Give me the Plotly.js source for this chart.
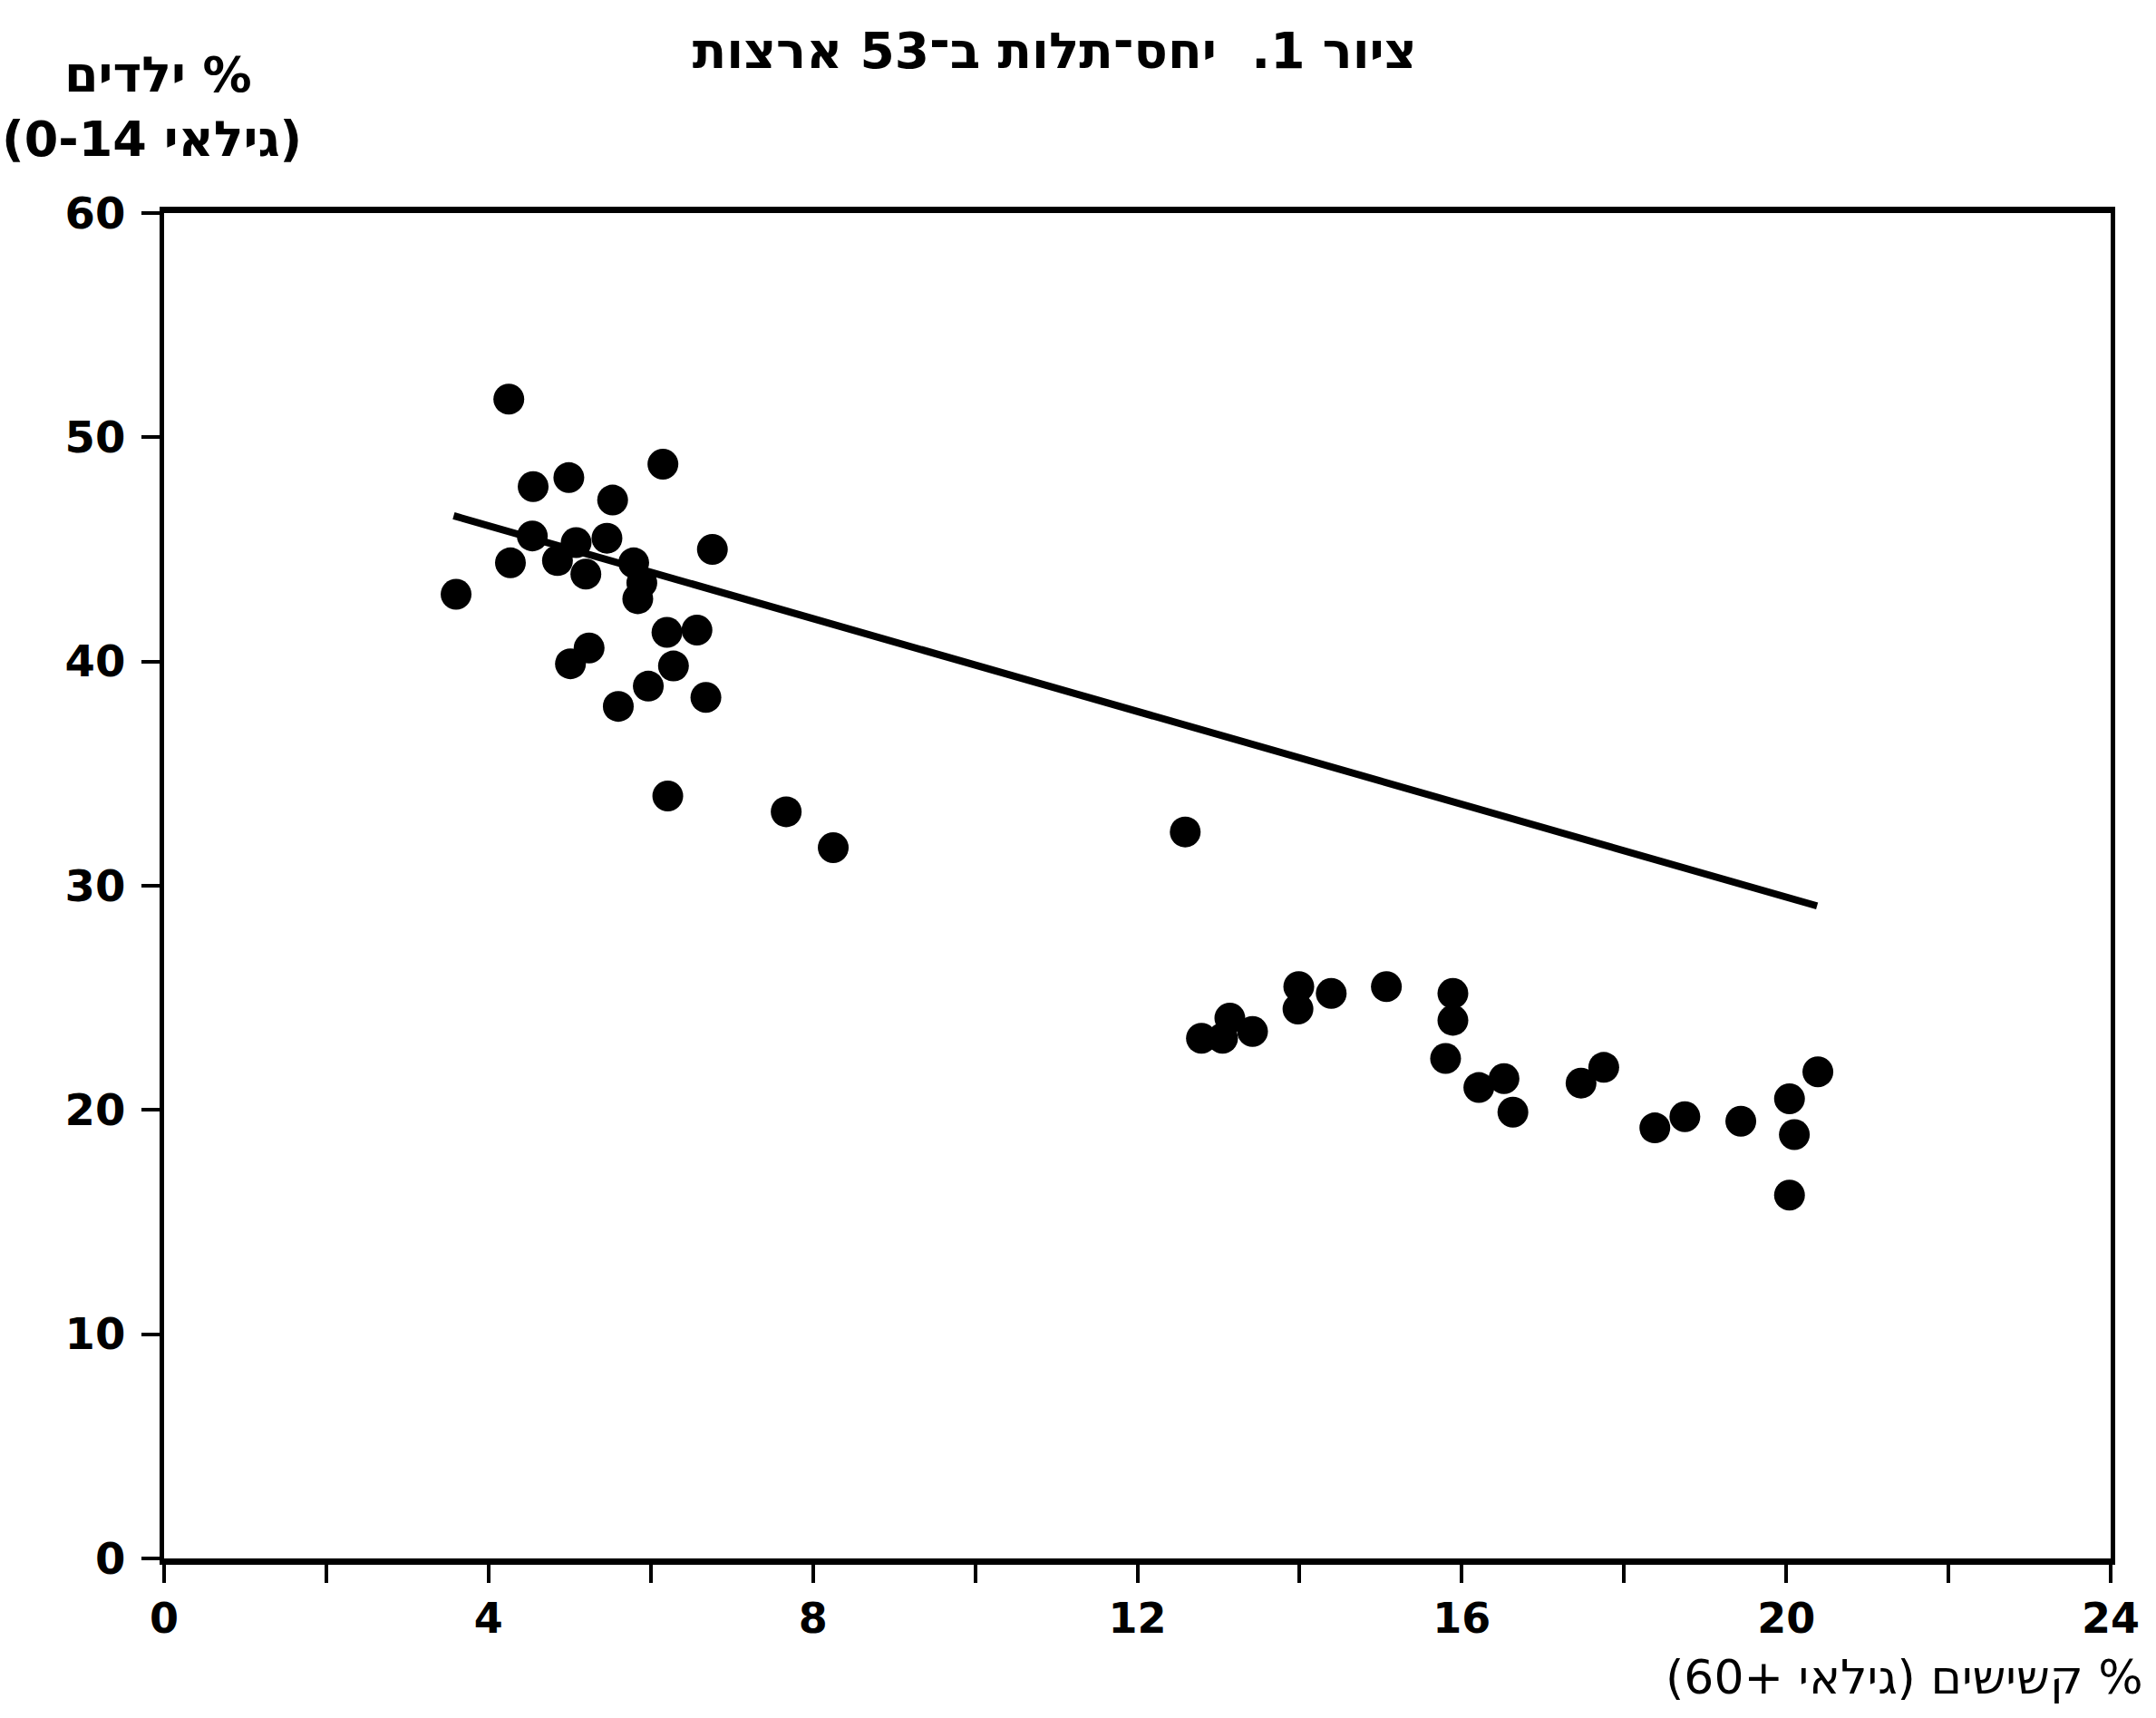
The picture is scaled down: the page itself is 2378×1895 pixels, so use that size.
<!DOCTYPE html>
<html>
<head>
<meta charset="utf-8">
<script src="https://cdn.plot.ly/plotly-3.0.1.min.js"></script>
<style>
  html, body { margin: 0; padding: 0; background: #ffffff; }
  #chart { width: 2378px; height: 1895px; }
</style>
</head>
<body>
<div id="chart"></div>
<script>
// ---- data (x = % aged 60+, y = % aged 0-14) ----
const elderlyPct = [
  3.60, 4.25, 4.27, 4.54, 4.55, 4.85, 4.99, 5.01, 5.08, 5.20,
  5.24, 5.46, 5.53, 5.60, 5.79, 5.84, 5.89, 5.97, 6.15, 6.20,
  6.21, 6.28, 6.57, 6.68, 6.76, 7.67, 8.25,
  12.59, 12.79, 13.05, 13.14, 13.42, 13.98, 13.99, 14.39, 15.07,
  15.80, 15.89, 15.89, 16.21, 16.52, 16.63, 17.47, 17.75,
  18.38, 18.75, 19.44, 20.04, 20.04, 20.10, 20.39
];
const childrenPct = [
  43.0, 51.7, 44.4, 45.6, 47.8, 44.5, 48.2, 39.9, 45.3, 43.9,
  40.6, 45.5, 47.2, 38.0, 44.4, 42.8, 43.5, 38.9, 48.8, 41.3,
  34.0, 39.8, 41.4, 38.4, 45.0, 33.3, 31.7,
  32.4, 23.2, 23.2, 24.1, 23.5, 24.5, 25.5, 25.2, 25.5,
  22.3, 25.2, 24.0, 21.0, 21.4, 19.9, 21.2, 21.9,
  19.2, 19.7, 19.5, 20.5, 16.2, 18.9, 21.7
];
// fitted line as drawn in the figure (end points)
const trendX = [3.57, 20.38];
const trendY = [46.5, 29.1];

const xTickVals = [0, 2, 4, 6, 8, 10, 12, 14, 16, 18, 20, 22, 24];
const xTickText = ['0', '', '4', '', '8', '', '12', '', '16', '', '20', '', '24'];
const yTickVals = [0, 10, 20, 30, 40, 50, 60];
const yTickText = ['0', '10', '20', '30', '40', '50', '60'];

const chartTitle = 'ציור 1.  יחס־תלות ב־53 ארצות';
const yTitleLine1 = '% ילדים';
const yTitleLine2 = '(גילאי 0-14)';
const xTitleText = '% קשישים (גילאי +60)';

// right-to-left marks so Hebrew strings lay out as in the original
const RLM = '\u200F';
function rtl(s) { return RLM + s + RLM; }

const FONT = 'DejaVu Sans, Liberation Sans, sans-serif';

const traces = [
  {
    type: 'scatter',
    mode: 'markers',
    x: elderlyPct,
    y: childrenPct,
    marker: { color: '#000000', size: 34, line: { width: 0 } },
    hoverinfo: 'x+y',
    showlegend: false
  },
  {
    type: 'scatter',
    mode: 'lines',
    x: trendX,
    y: trendY,
    line: { color: '#000000', width: 8 },
    hoverinfo: 'skip',
    showlegend: false
  }
];

const layout = {
  width: 2378,
  height: 1895,
  margin: { l: 181, r: 50, t: 235, b: 176, pad: 0 },
  paper_bgcolor: '#ffffff',
  plot_bgcolor: '#ffffff',
  showlegend: false,
  title: {
    text: rtl(chartTitle),
    font: { family: FONT, size: 55, weight: 'bold', color: '#000000' },
    xref: 'paper', x: 0.4575, xanchor: 'center',
    yref: 'container', y: 0.9705, yanchor: 'middle'
  },
  xaxis: {
    range: [0, 24],
    tickmode: 'array',
    tickvals: xTickVals,
    ticktext: xTickText,
    ticks: 'outside',
    ticklen: 20,
    tickwidth: 4,
    tickcolor: '#000000',
    ticklabelstandoff: 0,
    tickfont: { family: FONT, size: 46, weight: 'bold', color: '#000000' },
    showline: true,
    linewidth: 7,
    linecolor: '#000000',
    mirror: true,
    showgrid: false,
    zeroline: false,
    fixedrange: true
  },
  yaxis: {
    range: [0, 60],
    tickmode: 'array',
    tickvals: yTickVals,
    ticktext: yTickText,
    ticks: 'outside',
    ticklen: 20,
    tickwidth: 4,
    tickcolor: '#000000',
    ticklabelstandoff: 8,
    tickfont: { family: FONT, size: 48, weight: 'bold', color: '#000000' },
    showline: true,
    linewidth: 5,
    linecolor: '#000000',
    mirror: true,
    showgrid: false,
    zeroline: false,
    fixedrange: true
  },
  annotations: [
    {
      text: rtl(yTitleLine1),
      xref: 'paper', yref: 'paper',
      x: -0.0028, y: 1.103, xanchor: 'center', yanchor: 'middle',
      showarrow: false,
      font: { family: FONT, size: 54, weight: 'bold', color: '#000000' }
    },
    {
      text: rtl(yTitleLine2),
      xref: 'paper', yref: 'paper',
      x: -0.0065, y: 1.055, xanchor: 'center', yanchor: 'middle',
      showarrow: false,
      font: { family: FONT, size: 54, weight: 'bold', color: '#000000' }
    },
    {
      text: rtl(xTitleText),
      xref: 'paper', yref: 'paper',
      x: 1.0177, y: -0.088, xanchor: 'right', yanchor: 'middle',
      showarrow: false,
      font: { family: FONT, size: 52, color: '#000000' }
    }
  ]
};

Plotly.newPlot('chart', traces, layout, { displayModeBar: false, staticPlot: true });
</script>
</body>
</html>
